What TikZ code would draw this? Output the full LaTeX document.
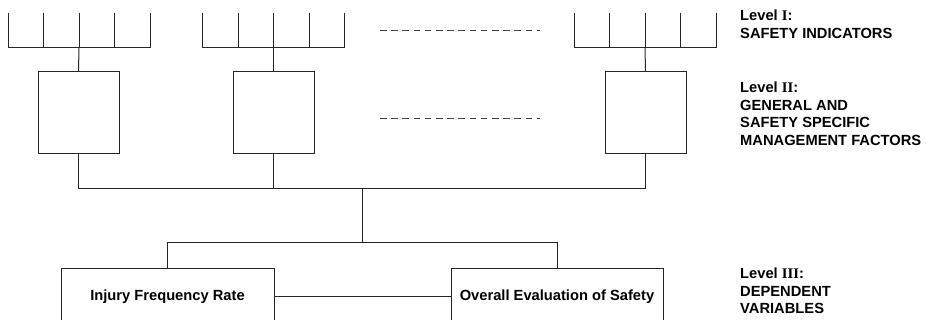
\documentclass[tikz,border=0pt]{standalone}
\usepackage{fontspec}
\setmainfont{Liberation Sans}
\newfontfamily\numfont{Liberation Serif}
\newcommand{\rn}[1]{{\numfont\bfseries #1}}
\begin{document}
\begin{tikzpicture}[x=1pt,y=-1pt,
  wire/.style={draw=black!85, line width=1pt},
  dashwire/.style={draw=black!75, line width=1pt, dash pattern=on 6.5pt off 4.7pt},
  fbox/.style={draw=black!85, line width=1pt, rectangle, inner sep=0pt, fill=white},
  mbox/.style={fbox, minimum width=81pt, minimum height=82pt},
  dbox/.style={fbox, minimum width=213pt, minimum height=55pt,
    font=\bfseries\fontsize{14.7}{17.5}\selectfont},
  lbl/.style={anchor=north west, inner sep=0pt, align=left,
    font=\bfseries\fontsize{14.7}{17.5}\selectfont}]
\useasboundingbox (0,0) rectangle (926,320);

% Level II boxes
\node[mbox] (b1) at (78.5,113) {};
\node[mbox] (b2) at (273.5,113) {};
\node[mbox] (b3) at (645.5,113) {};

% Level I combs
\foreach \g/\cx in {1/79, 2/273.5, 3/645}{
  \coordinate (c\g) at (\cx,48);
  \foreach \k in {-2,-1,0,1,2}{
    \draw[wire] (\cx+\k*35.5,13) -- (\cx+\k*35.5,48);
  }
  \draw[wire] (\cx-71,48) -- (\cx+71,48);
}
\draw[wire] (c1) -- (b1.north);
\draw[wire] (c2) -- (b2.north);
\draw[wire] (c3) -- (b3.north);

% dashed continuation marks
\coordinate (d1a) at (380,31); \coordinate (d1b) at (540,31);
\coordinate (d2a) at (380,119); \coordinate (d2b) at (540,119);
\draw[dashwire] (d1a) -- (d1b);
\draw[dashwire] (d2a) -- (d2b);

% Level III boxes
\node[dbox] (ifr) at (167.5,296.5) {Injury Frequency Rate};
\node[dbox, minimum width=212pt] (oes) at (557,296.5) {Overall Evaluation of Safety};

% connectors
\coordinate (j2) at (362,189);
\coordinate (j3) at (362,243);
\draw[wire] (b1.south) |- (j2);
\draw[wire] (b3.south) |- (j2);
\draw[wire] (b2.south) -- (b2.south |- j2);
\draw[wire] (j2) -- (j3);
\draw[wire] (ifr.north) |- (j3);
\draw[wire] (oes.north) |- (j3);
\draw[wire] (ifr) -- (oes);

% level labels
\node[lbl] (l1) at (740,9.8) {Level \rn{I}:\\SAFETY INDICATORS};
\node[lbl] (l2) at (740,81.8) {Level \rn{II}:\\GENERAL AND\\SAFETY SPECIFIC\\MANAGEMENT FACTORS};
\node[lbl] (l3) at (740,267.8) {Level \rn{III}:\\DEPENDENT\\VARIABLES};
\end{tikzpicture}
\end{document}
